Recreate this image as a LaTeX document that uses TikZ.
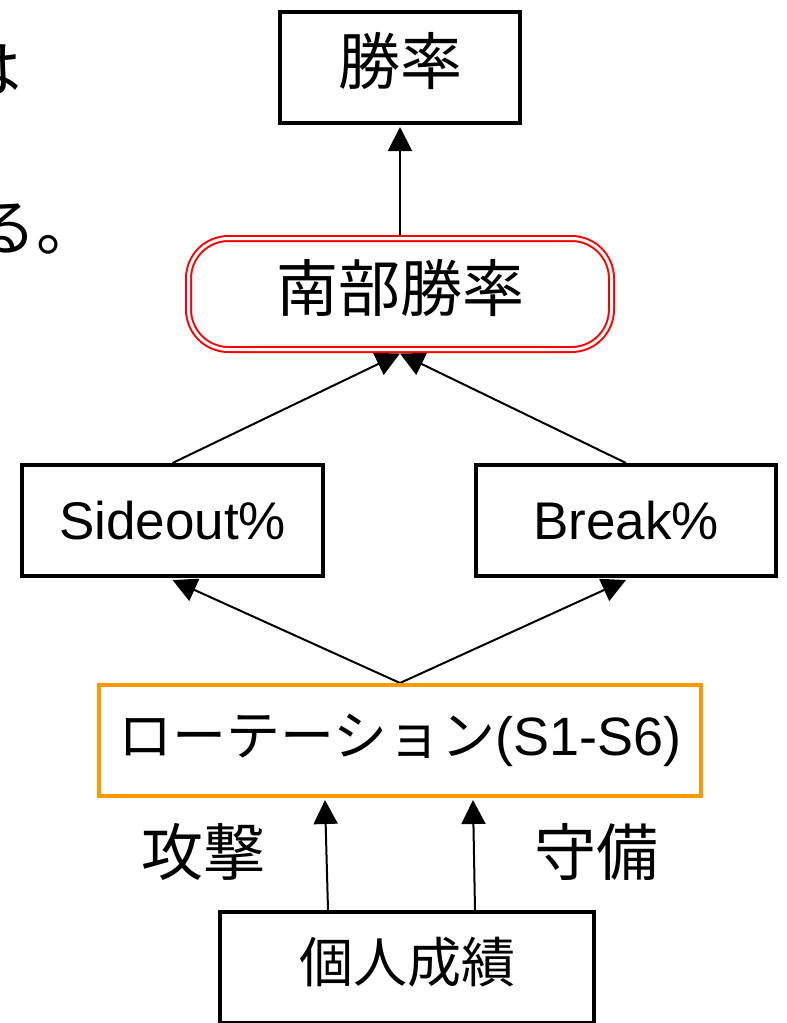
\documentclass[tikz,border=0pt]{standalone}
\usepackage{fontspec}
\setmainfont{Liberation Sans}
\newfontfamily\jp{Noto Sans CJK JP}
\usetikzlibrary{arrows.meta,backgrounds,calc}
\definecolor{orng}{HTML}{FF9900}
\begin{document}
\begin{tikzpicture}[x=1pt,y=-1pt,
  box/.style={rectangle,draw=black,line width=4pt,fill=white,minimum height=111pt,inner sep=0pt},
  rbox/.style={rectangle,draw=red,double=white,double distance=3pt,line width=2pt,rounded corners=40pt,fill=white,minimum height=111pt,inner sep=0pt},
  big/.style={font=\fontsize{62}{70}\selectfont\jp},
  mid/.style={font=\fontsize{53}{60}\selectfont},
  conn/.style={line width=2pt,-{Triangle[length=24pt,width=24pt]}}]
\useasboundingbox (0,0) rectangle (787,1023);
\clip (0,0) rectangle (787,1023);

% clipped text at the left edge
\node[big,anchor=base east,inner sep=0pt] (t1) at (22,92) {は};
\node[big,anchor=base east,inner sep=0pt] (t2) at (99,250) {る。};

\node[box,big,minimum width=240pt] (win) at (400,67.5) {\raisebox{7pt}[\height][\depth]{勝率}};
\node[rbox,big,minimum width=423pt] (nanbu) at (400,294) {\raisebox{6pt}[\height][\depth]{南部勝率}};
\node[box,mid,minimum width=301pt] (side) at (172.5,520.5) {Sideout\%};
\node[box,mid,minimum width=300pt] (brk) at (626,520.5) {Break\%};
\node[box,draw=orng,font=\fontsize{54}{60}\selectfont,minimum width=602pt] (rot) at (400,740.5) {{\jp ローテーション}(S1-S6)};
\node[box,minimum width=374pt,font=\fontsize{54}{60}\selectfont\jp] (ind) at (407,967.5) {\raisebox{5pt}[\height][\depth]{個人成績}};
\node[big] (atk) at (203.5,852) {攻撃};
\node[big] (def) at (596.5,852) {守備};

\begin{scope}[on background layer]
\draw[conn] (nanbu.north) -- ($(win.south)+(0,2)$);
\draw[conn] (side.north) -- ($(nanbu.south)+(0,3)$);
\draw[conn] (brk.north) -- ($(nanbu.south)+(0,3)$);
\draw[conn] (rot.north) -- ($(side.south)+(0,2)$);
\draw[conn] (rot.north) -- ($(brk.south)+(0,2)$);
\draw[conn] ($(ind.north)+(-79,0)$) -- ($(rot.south)+(-75,2)$);
\draw[conn] ($(ind.north)+(68,0)$) -- ($(rot.south)+(73,2)$);
\end{scope}
\end{tikzpicture}
\end{document}
